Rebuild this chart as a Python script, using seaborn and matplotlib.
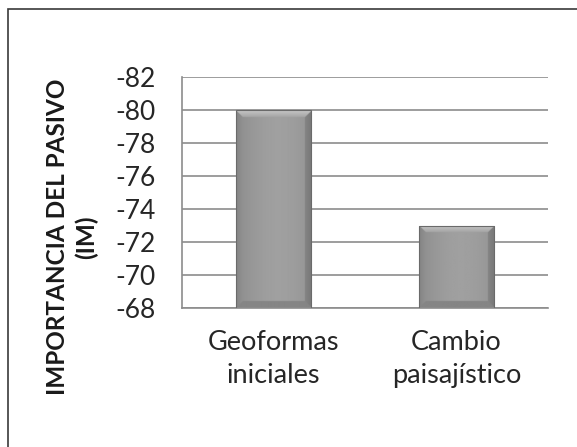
import numpy as np
import pandas as pd
import seaborn as sns
import matplotlib.pyplot as plt
from matplotlib.patches import Rectangle

# data
categorias = ["Geoformas\niniciales", "Cambio\npaisajístico"]
importancia = [-80, -73]
y_ticks = [-68, -70, -72, -74, -76, -78, -80, -82]

df = pd.DataFrame({"categoria": categorias, "im": importancia})

sns.set_style("white")
plt.rcParams["font.family"] = ["Lato", "DejaVu Sans"]


def shade_bar(ax, patch, ylim):
    """Paint a bevelled grey gradient inside a bar patch."""
    x0, w = patch.get_x(), patch.get_width()
    y0, h = patch.get_y(), patch.get_height()
    ya, yb = sorted([y0, y0 + h])
    ya, yb = max(ya, min(ylim)), min(yb, max(ylim))
    p0 = ax.transData.transform((x0, ya))
    p1 = ax.transData.transform((x0 + w, yb))
    wpx, hpx = abs(p1[0] - p0[0]), abs(p1[1] - p0[1])
    nx, ny = int(wpx * 2), int(hpx * 2)
    X, Y = np.meshgrid(np.linspace(0, wpx, nx), np.linspace(0, hpx, ny))
    u = X / wpx
    img = 0.58 + 0.06 * np.sin(np.pi * u) - 0.03 * (1 - u)
    b = 7.0
    top = (Y < b) & (Y <= X) & (Y <= wpx - X)
    left = (X < b) & (X < Y) & (X <= hpx - Y)
    right = (wpx - X < b) & (wpx - X < Y) & (wpx - X <= hpx - Y)
    bottom = (hpx - Y < b) & ~top & ~left & ~right
    img[top] = 0.78 - 0.14 * (Y[top] / b)
    img[left] = 0.52 + 0.05 * (X[left] / b)
    img[right] = 0.47 + 0.05 * ((wpx - X[right]) / b)
    img[bottom] = 0.52
    im = ax.imshow(img, cmap="gray", vmin=0, vmax=1, aspect="auto",
                   extent=(x0, x0 + w, yb, ya), origin="upper",
                   interpolation="bilinear", zorder=2)
    im.set_clip_path(patch)
    patch.set_facecolor("none")
    patch.set_zorder(3)


fig = plt.figure(figsize=(5.77, 4.47), dpi=100)
ax = fig.add_axes([182 / 577, 1 - 308 / 447, 366 / 577, 231 / 447])

sns.barplot(data=df, x="categoria", y="im", color="#939393", saturation=1,
            width=0.41, edgecolor="#6a6a6a", linewidth=0.8, ax=ax)

ax.set_ylim(-68, -82)
ax.set_yticks(y_ticks)
ax.set_yticklabels([str(t) for t in y_ticks])
ax.set_xlim(-0.5, 1.5)
ax.set_axisbelow(True)
ax.yaxis.grid(True, color="#8c8c8c", linewidth=1.2)
ax.xaxis.grid(False)

for patch in ax.patches:
    shade_bar(ax, patch, (-68, -82))
ax.set_ylim(-68, -82)
ax.set_xlim(-0.5, 1.5)

for side in ["top", "right"]:
    ax.spines[side].set_visible(False)
for side in ["left", "bottom"]:
    ax.spines[side].set_color("#8c8c8c")
    ax.spines[side].set_linewidth(1.2)

ax.tick_params(axis="both", length=0, labelsize=19, colors="#262626")
ax.tick_params(axis="x", labelsize=19.5, pad=16)
ax.tick_params(axis="y", pad=19)
for lbl in ax.get_xticklabels():
    lbl.set_linespacing(1.38)

ax.set_xlabel("")
ax.set_ylabel("")
fig.text(72 / 577, 1 - 237 / 447, "IMPORTANCIA DEL PASIVO\n(IM)",
         rotation=90, ha="center", va="center", fontsize=17.5,
         fontweight="bold", color="#1a1a1a", linespacing=1.3)

# outer frame of the original chart area
fig.patches.append(Rectangle((8 / 577, -0.1), 1.2, 1 - 9 / 447 + 0.1,
                             transform=fig.transFigure, fill=False,
                             edgecolor="#3a3a3a", linewidth=1.2))

fig.savefig("out.png", dpi=100)
